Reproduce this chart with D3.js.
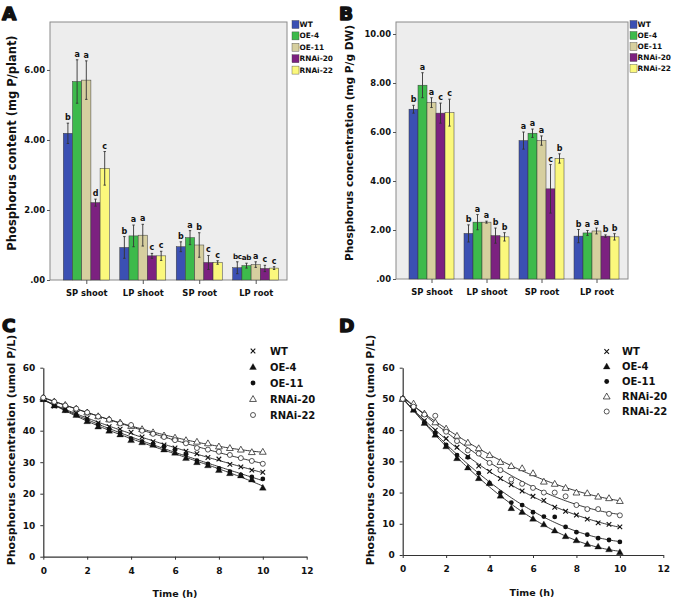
<!DOCTYPE html>
<html><head><meta charset="utf-8">
<script src="https://cdn.jsdelivr.net/npm/d3@7"></script>
<style>
html,body{margin:0;padding:0;background:#fff;}
text{font-family:"DejaVu Sans",Verdana,sans-serif;font-weight:bold;fill:#111;}
</style></head>
<body><svg id="c" width="675" height="601"></svg>
<script>
// ---------- DATA ----------
const groups = ["SP shoot", "LP shoot", "SP root", "LP root"];
const lines = ["WT", "OE-4", "OE-11", "RNAi-20", "RNAi-22"];
const barColors = ["#3b50b3", "#3dba4b", "#d6cf9f", "#7c2180", "#fbf87c"];

// Panel A: phosphorus content (mg P/plant), per line across groups
const contentWT    = [4.19, 0.93, 0.95, 0.35];
const contentOE4   = [5.67, 1.26, 1.21, 0.41];
const contentOE11  = [5.71, 1.28, 1.00, 0.44];
const contentR20   = [2.21, 0.69, 0.50, 0.33];
const contentR22   = [3.19, 0.69, 0.50, 0.34];
const contentErrWT   = [0.29, 0.31, 0.14, 0.17];
const contentErrOE4  = [0.62, 0.31, 0.20, 0.07];
const contentErrOE11 = [0.55, 0.31, 0.35, 0.08];
const contentErrR20  = [0.10, 0.07, 0.20, 0.09];
const contentErrR22  = [0.48, 0.13, 0.05, 0.04];
const contentLetWT   = ["b", "b", "b", "bc"];
const contentLetOE4  = ["a", "a", "a", "ab"];
const contentLetOE11 = ["a", "a", "b", "a"];
const contentLetR20  = ["d", "c", "c", "c"];
const contentLetR22  = ["c", "c", "c", "c"];
const contentTicks = [0, 2, 4, 6];

// Panel B: phosphorus concentration (mg P/g DW)
const concWT    = [6.93, 1.86, 5.65, 1.75];
const concOE4   = [7.91, 2.32, 5.95, 1.88];
const concOE11  = [7.20, 2.32, 5.65, 1.96];
const concR20   = [6.77, 1.77, 3.68, 1.75];
const concR22   = [6.79, 1.72, 4.92, 1.72];
const concErrWT   = [0.16, 0.35, 0.35, 0.27];
const concErrOE4  = [0.51, 0.31, 0.17, 0.10];
const concErrOE11 = [0.20, 0.04, 0.19, 0.12];
const concErrR20  = [0.41, 0.31, 0.99, 0.05];
const concErrR22  = [0.55, 0.17, 0.19, 0.13];
const concLetWT   = ["b", "b", "a", "b"];
const concLetOE4  = ["a", "a", "a", "a"];
const concLetOE11 = ["a", "a", "a", "a"];
const concLetR20  = ["c", "b", "c", "b"];
const concLetR22  = ["c", "b", "b", "b"];
const concTicks = [0, 2, 4, 6, 8, 10];

// Panels C & D: time course (h) and phosphorus concentration (umol P/L)
const timeH = [0,0.5,1,1.5,2,2.5,3,3.5,4,4.5,5,5.5,6,6.5,7,7.5,8,8.5,9,9.5,10];
const timeTicks = [0, 2, 4, 6, 8, 10, 12];
const concTicksC = [0, 10, 20, 30, 40, 50, 60];

const cWT   = [50,47.8,46.8,45.5,44.0,42.5,41.3,40.5,39.5,38.0,36.5,35.5,34.5,33.5,32.7,31.5,31.0,29.3,28.5,27.5,26.8];
const cOE4  = [50,48.0,46.5,45.0,43.0,41.3,40.0,38.8,37.0,36.3,35.5,34.0,33.0,31.3,30.0,29.0,27.5,26.5,25.8,24.5,21.9];
const cOE11 = [50,48.0,46.5,45.0,43.5,42.0,40.5,39.2,37.5,36.5,35.8,35.0,34.0,32.5,30.5,29.5,28.0,27.0,26.0,25.3,24.7];
const cR20  = [50.5,49.3,48.2,47.0,45.8,44.6,43.6,42.6,41.5,40.5,39.5,38.5,37.8,37.0,36.5,36.0,35.0,34.5,34.0,33.2,33.3];
const cR22  = [50.5,49.2,48.0,47.0,45.8,44.5,43.5,42.3,41.8,40.0,39.0,38.0,37.0,36.0,34.5,34.0,33.3,32.3,31.3,30.4,29.5];

const dWT   = [50,46.5,43.0,40.0,37.3,34.5,31.5,28.5,26.8,24.5,22.5,20.5,18.8,17.5,15.3,14.0,12.8,11.5,10.3,9.8,9.0];
const dOE4  = [50,46.5,42.3,38.5,34.8,31.0,28.0,24.6,23.0,19.0,15.0,13.8,11.6,9.8,7.8,6.0,4.7,3.5,2.7,1.8,0.9];
const dOE11 = [50,46.5,42.5,39.0,35.3,32.0,31.3,26.2,23.0,20.0,16.8,16.0,13.7,12.3,12.2,9.0,7.3,6.5,5.4,4.8,4.2];
const dR20  = [50,48.5,45.3,42.5,40.5,38.2,36.0,34.2,32.0,29.8,28.5,27.8,26.2,23.5,22.8,21.5,20.0,19.8,18.7,18.2,17.3];
const dR22  = [50,47.5,45.0,44.6,39.5,36.5,33.5,32.5,29.5,27.2,24.2,22.8,21.5,20.0,20.0,18.8,16.0,14.7,14.7,13.2,12.7];

const markerTypes = ["x", "triUp", "dot", "triOpen", "circOpen"];

// ---------- DRAW ----------
const svg = d3.select("#c");
svg.append("rect").attr("width",675).attr("height",601).attr("fill","#fff");

function panelLetter(t, x, y) {
  svg.append("text").attr("x", x).attr("y", y).text(t)
    .attr("font-size", 18.5).attr("font-family", "DejaVu Sans").attr("font-weight", "bold")
    .attr("stroke", "#111").attr("stroke-width", 1.5).attr("stroke-linejoin", "round");
}

function barPanel(cfg) {
  const g = svg.append("g");
  const y = d3.scaleLinear().domain([0, cfg.yMax]).range([cfg.y1, cfg.y0]);
  const xc = d3.scalePoint().domain(groups).range(cfg.centerRange);
  const xb = d3.scaleBand().domain(lines).range([-cfg.groupW/2, cfg.groupW/2]).padding(0);
  g.append("rect").attr("x", cfg.x0).attr("y", cfg.y0).attr("width", cfg.x1 - cfg.x0)
    .attr("height", cfg.y1 - cfg.y0).attr("fill", "#ededed").attr("stroke", "#8a8a8a").attr("stroke-width", 1);
  lines.forEach((ln, si) => {
    groups.forEach((gr, gi) => {
      const v = cfg.vals[si][gi], e = cfg.errs[si][gi];
      const bx = xc(gr) + xb(ln);
      g.append("rect").attr("x", bx).attr("y", y(v)).attr("width", xb.bandwidth())
        .attr("height", y(0) - y(v)).attr("fill", barColors[si])
        .attr("stroke", "#3a3a3a").attr("stroke-width", 0.5);
      const cx = bx + xb.bandwidth()/2;
      g.append("line").attr("x1", cx).attr("x2", cx).attr("y1", y(v+e)).attr("y2", y(v-e))
        .attr("stroke", "#333").attr("stroke-width", 0.9);
      [v+e, v-e].forEach(w => g.append("line").attr("x1", cx-1.2).attr("x2", cx+1.2)
        .attr("y1", y(w)).attr("y2", y(w)).attr("stroke", "#333").attr("stroke-width", 0.9));
      const lab = cfg.lets[si][gi];
      g.append("text").attr("x", cx).attr("y", y(v+e) - 3).attr("text-anchor", "middle")
        .attr("font-size", lab.length > 1 ? 7.2 : 8).attr("letter-spacing", lab.length > 1 ? -0.3 : 0)
        .text(lab);
    });
  });
  const ya = g.append("g").attr("transform", `translate(${cfg.x0},0)`)
    .call(d3.axisLeft(y).tickValues(cfg.ticks).tickSize(3).tickPadding(2)
      .tickFormat(d => d === 0 ? ".00" : d3.format(".2f")(d)));
  ya.select(".domain").remove();
  ya.selectAll("line").attr("stroke", "#555");
  ya.selectAll("text").attr("font-size", 8.4).attr("font-family", "DejaVu Sans").attr("font-weight", "bold");
  const xa = g.append("g").attr("transform", `translate(0,${cfg.y1})`)
    .call(d3.axisBottom(xc).tickSize(4).tickPadding(6));
  xa.select(".domain").remove();
  xa.selectAll("line").attr("stroke", "#555");
  xa.selectAll("text").attr("font-size", 8.4).attr("font-family", "DejaVu Sans").attr("font-weight", "bold");
  g.append("text").attr("transform", `translate(${cfg.labX},${cfg.labY}) rotate(-90)`)
    .attr("text-anchor", "middle").attr("font-size", cfg.labSize).text(cfg.ylabel);
  lines.forEach((ln, si) => {
    const ly = cfg.legY + si * cfg.legStep;
    g.append("rect").attr("x", cfg.legX).attr("y", ly - 4).attr("width", 7).attr("height", 8)
      .attr("fill", barColors[si]).attr("stroke", "#444").attr("stroke-width", 0.4);
    g.append("text").attr("x", cfg.legX + 7.5).attr("y", ly).attr("dy", "0.35em")
      .attr("font-size", 7.4).text(ln);
  });
}

function polyfit(xs, ys, deg) {
  const n = deg + 1;
  const A = Array.from({length: n}, () => new Array(n + 1).fill(0));
  xs.forEach((x, k) => {
    for (let i = 0; i < n; i++) {
      for (let j = 0; j < n; j++) A[i][j] += Math.pow(x, i + j);
      A[i][n] += ys[k] * Math.pow(x, i);
    }
  });
  for (let i = 0; i < n; i++) {
    let p = i;
    for (let r = i + 1; r < n; r++) if (Math.abs(A[r][i]) > Math.abs(A[p][i])) p = r;
    [A[i], A[p]] = [A[p], A[i]];
    for (let r = 0; r < n; r++) if (r !== i) {
      const f = A[r][i] / A[i][i];
      for (let c = i; c <= n; c++) A[r][c] -= f * A[i][c];
    }
  }
  const coef = A.map((row, i) => row[n] / row[i]);
  return x => coef.reduce((s, c, i) => s + c * Math.pow(x, i), 0);
}

function drawMarker(g, type, cx, cy) {
  if (type === "x") {
    const s = 2.3;
    g.append("path").attr("d", `M${cx-s},${cy-s}L${cx+s},${cy+s}M${cx-s},${cy+s}L${cx+s},${cy-s}`)
      .attr("stroke", "#111").attr("stroke-width", 1.1).attr("fill", "none");
  } else if (type === "triUp" || type === "triOpen") {
    g.append("path").attr("transform", `translate(${cx},${cy + 0.5})`)
      .attr("d", d3.symbol().type(d3.symbolTriangle).size(20)())
      .attr("fill", type === "triUp" ? "#111" : "#fff").attr("stroke", "#111").attr("stroke-width", type === "triUp" ? 0.3 : 0.7);
  } else if (type === "dot") {
    g.append("circle").attr("cx", cx).attr("cy", cy).attr("r", 2.4).attr("fill", "#111");
  } else {
    g.append("circle").attr("cx", cx).attr("cy", cy).attr("r", 2.5).attr("fill", "#fff")
      .attr("stroke", "#111").attr("stroke-width", 0.7);
  }
}

function linePanel(cfg) {
  const g = svg.append("g");
  const x = d3.scaleLinear().domain([0, 12]).range([cfg.x0, cfg.x1]);
  const y = d3.scaleLinear().domain([0, 60]).range([cfg.y1, cfg.y0]);
  const xa = g.append("g").attr("transform", `translate(0,${cfg.y1})`)
    .call(d3.axisBottom(x).tickValues(timeTicks).tickSize(3).tickSizeOuter(0).tickPadding(8));
  const ya = g.append("g").attr("transform", `translate(${cfg.x0},0)`)
    .call(d3.axisLeft(y).tickValues(concTicksC).tickSize(3).tickSizeOuter(0).tickPadding(5));
  [xa, ya].forEach(a => {
    a.select(".domain").attr("stroke", "#333").attr("stroke-width", 1.2);
    a.selectAll("line").attr("stroke", "#333");
    a.selectAll("text").attr("font-size", 9).attr("font-family", "DejaVu Sans").attr("font-weight", "bold");
  });
  const fitLine = d3.line().x(d => x(d[0])).y(d => y(d[1]));
  const samples = d3.range(0, 10.001, 0.1);
  cfg.series.forEach((s) => {
    const f = polyfit(timeH, s, 3);
    g.append("path").attr("d", fitLine(samples.map(t => [t, f(t)])))
      .attr("fill", "none").attr("stroke", "#222").attr("stroke-width", 0.9);
  });
  cfg.series.forEach((s, si) => {
    s.forEach((v, k) => drawMarker(g, markerTypes[si], x(timeH[k]), y(v)));
  });
  g.append("text").attr("x", cfg.tX).attr("y", cfg.tY).attr("text-anchor", "middle")
    .attr("font-size", 9.5).text("Time (h)");
  g.append("text").attr("transform", `translate(${cfg.labX},${cfg.labY}) rotate(-90)`)
    .attr("text-anchor", "middle").attr("font-size", 11).text("Phosphorus concentration (umol P/L)");
  lines.forEach((ln, si) => {
    const ly = cfg.legY + si * cfg.legStep;
    drawMarker(g, markerTypes[si], cfg.legX, ly);
    g.append("text").attr("x", cfg.legTX).attr("y", ly).attr("dy", "0.35em")
      .attr("font-size", 10).text(ln);
  });
}

barPanel({
  x0: 50, x1: 287, y0: 22, y1: 280, yMax: 7.37, centerRange: [86.3, 255.7], groupW: 46,
  vals: [contentWT, contentOE4, contentOE11, contentR20, contentR22],
  errs: [contentErrWT, contentErrOE4, contentErrOE11, contentErrR20, contentErrR22],
  lets: [contentLetWT, contentLetOE4, contentLetOE11, contentLetR20, contentLetR22],
  ticks: contentTicks, ylabel: "Phosphorus content (mg P/plant)", labX: 16, labY: 143, labSize: 11.5,
  legX: 292, legY: 24.5, legStep: 11.4
});
barPanel({
  x0: 396, x1: 628, y0: 22, y1: 279, yMax: 10.49, centerRange: [431.5, 596.5], groupW: 45,
  vals: [concWT, concOE4, concOE11, concR20, concR22],
  errs: [concErrWT, concErrOE4, concErrOE11, concErrR20, concErrR22],
  lets: [concLetWT, concLetOE4, concLetOE11, concLetR20, concLetR22],
  ticks: concTicks, ylabel: "Phosphorus concentration (mg P/g DW)", labX: 353, labY: 143, labSize: 10.6,
  legX: 630, legY: 24.5, legStep: 11
});
linePanel({
  x0: 43.3, x1: 306.7, y0: 367.7, y1: 556.7,
  series: [cWT, cOE4, cOE11, cR20, cR22],
  tX: 175, tY: 597, labX: 15, labY: 450,
  legX: 253, legTX: 270, legY: 351, legStep: 16
});
linePanel({
  x0: 402.7, x1: 663.3, y0: 367.7, y1: 555,
  series: [dWT, dOE4, dOE11, dR20, dR22],
  tX: 532, tY: 596, labX: 374, labY: 450,
  legX: 606.7, legTX: 622, legY: 351.5, legStep: 15
});
panelLetter("A", 2, 20);
panelLetter("B", 339, 20);
panelLetter("C", 2, 332);
panelLetter("D", 339, 332);
</script></body></html>
